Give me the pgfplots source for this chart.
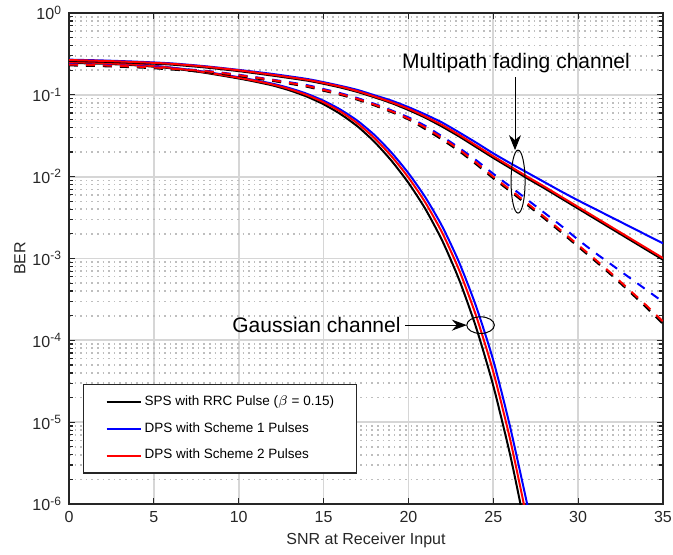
\documentclass[border=0pt]{standalone}
\usepackage{fontspec}
\setmainfont{Liberation Sans}
\usepackage{pgfplots}
\pgfplotsset{compat=1.18}
\usetikzlibrary{arrows.meta}
\definecolor{axgray}{RGB}{38,38,38}
\definecolor{gridmaj}{RGB}{214,214,214}
\definecolor{gridmin}{RGB}{190,190,190}
\begin{document}
\begin{tikzpicture}
\begin{axis}[
  scale only axis, width=297pt, height=245.5pt,
  xmin=0, xmax=35, ymin=1e-6, ymax=1, ymode=log,
  xtick={0,5,...,35},
  ytick={1e-6,1e-5,1e-4,1e-3,1e-2,1e-1,1},
  grid=both,
  major grid style={line width=0.9pt, gridmaj},
  minor grid style={line width=0.8pt, gridmin, dotted},
  major tick length=3pt, minor tick length=1.8pt,
  tick style={line width=0.6pt, axgray},
  tick align=inside,
  axis line style={line width=0.6pt, axgray},
  tick label style={font=\fontsize{8}{9.6}\selectfont, text=axgray},
  /pgf/number format/assume math mode=true,
  log number format basis/.code 2 args={#1\textsuperscript{\pgfmathprintnumber{#2}}},
  xlabel={SNR at Receiver Input}, ylabel={BER},
  label style={font=\fontsize{8}{9.6}\selectfont, text=axgray},
  xlabel style={at={(axis description cs:0.5,-0.0733)}, anchor=center},
  ylabel style={at={(axis description cs:-0.0825,0.5)}, anchor=center},
  legend cell align=left,
  legend image code/.code={\draw[#1, line width=1pt] (0pt,0pt) -- (17pt,0pt);},
  legend style={at={(0.0236,0.2444)}, anchor=north west, draw=axgray, line width=0.6pt,
    fill=white, font=\fontsize{6.75}{8}\selectfont, inner xsep=11pt, inner ysep=5.5pt,
    row sep=7pt, column sep=1.5pt, nodes={inner sep=0pt}},
]
% Gaussian channel
\addplot[black, line width=1pt, smooth, tension=0.4] coordinates {
(0,0.2455) (2,0.2399) (4,0.2291) (6,0.2113) (8,0.1862) (10,0.1585) (11,0.1445)
(12,0.1303) (13,0.1135) (14,9.550e-2) (15,7.674e-2) (16,5.821e-2) (17,4.121e-2) (18,2.661e-2)
(19,1.567e-2) (20,8.414e-3) (21,4.027e-3) (22,1.641e-3) (23,5.433e-4) (24,1.413e-4)
(25,2.786e-5) (26,3.936e-6) (26.7,7.943e-7)};
\addlegendentry{SPS with RRC Pulse ($\beta$ = 0.15)}
\addplot[blue, line width=1pt, smooth, tension=0.4] coordinates {
(0,0.2541) (2,0.2477) (4,0.2366) (6,0.2158) (8,0.1914) (10,0.1644) (11,0.1503)
(12,0.1368) (13,0.1208) (14,0.1033) (15,8.472e-2) (16,6.592e-2) (17,4.819e-2) (18,3.228e-2)
(19,1.972e-2) (20,1.104e-2) (21,5.585e-3) (22,2.449e-3) (23,8.851e-4) (24,2.559e-4)
(25,5.689e-5) (26,8.610e-6) (27.1,7.943e-7)};
\addlegendentry{DPS with Scheme 1 Pulses}
\addplot[red, line width=1pt, smooth, tension=0.4] coordinates {
(0,0.2512) (2,0.2443) (4,0.2328) (6,0.2138) (8,0.1892) (10,0.1618) (11,0.1479)
(12,0.1337) (13,0.1175) (14,9.977e-2) (15,8.110e-2) (16,6.237e-2) (17,4.487e-2) (18,2.958e-2)
(19,1.778e-2) (20,9.772e-3) (21,4.819e-3) (22,2.046e-3) (23,7.112e-4) (24,1.959e-4)
(25,4.121e-5) (26,6.053e-6) (26.9,7.943e-7)};
\addlegendentry{DPS with Scheme 2 Pulses}
% Multipath fading, solid
\addplot[black, line width=1pt, smooth, tension=0.4, forget plot] coordinates {
(0,0.2600) (2,0.2541) (4,0.2455) (6,0.2344) (8,0.2163) (10,0.1950) (12,0.1718) (14,0.1496)
(15,0.1365) (16,0.1230) (17,0.1084) (18,9.333e-2) (19,7.943e-2) (20,6.531e-2) (21,5.248e-2)
(22,4.074e-2) (23,3.090e-2) (24,2.291e-2) (25,1.698e-2) (26,1.274e-2) (27,9.550e-3)
(28,7.244e-3) (29,5.433e-3) (30,4.074e-3) (31,3.055e-3) (32,2.291e-3) (33,1.718e-3)
(34,1.288e-3) (35,9.661e-4)};
\addplot[blue, line width=1pt, smooth, tension=0.4, forget plot] coordinates {
(0,0.2692) (2,0.2630) (4,0.2541) (6,0.2427) (8,0.2239) (10,0.2018) (12,0.1799) (14,0.1567)
(15,0.1429) (16,0.1288) (17,0.1148) (18,9.886e-2) (19,8.511e-2) (20,7.079e-2) (21,5.754e-2)
(22,4.571e-2) (23,3.467e-2) (24,2.600e-2) (25,1.928e-2) (26,1.462e-2) (27,1.122e-2)
(28,8.610e-3) (29,6.607e-3) (30,5.129e-3) (31,4.027e-3) (32,3.162e-3) (33,2.483e-3)
(34,1.950e-3) (35,1.531e-3)};
\addplot[red, line width=1pt, smooth, tension=0.4, forget plot] coordinates {
(0,0.2661) (2,0.2600) (4,0.2512) (6,0.2399) (8,0.2213) (10,0.1995) (12,0.1758) (14,0.1531)
(15,0.1396) (16,0.1259) (17,0.1109) (18,9.550e-2) (19,8.128e-2) (20,6.761e-2) (21,5.433e-2)
(22,4.266e-2) (23,3.236e-2) (24,2.399e-2) (25,1.778e-2) (26,1.334e-2) (27,1.000e-2)
(28,7.586e-3) (29,5.689e-3) (30,4.266e-3) (31,3.199e-3) (32,2.399e-3) (33,1.799e-3)
(34,1.349e-3) (35,1.012e-3)};
% Multipath fading, dashed
\addplot[black, line width=1pt, smooth, tension=0.4, dash pattern=on 4.5pt off 4pt, forget plot] coordinates {
(0,0.2291) (2,0.2239) (4,0.2163) (5,0.2113) (6,0.2042) (8,0.1905) (10,0.1698) (12,0.1479)
(14,0.1259) (15,0.1122) (16,0.1000) (17,8.710e-2) (18,7.413e-2) (19,6.166e-2) (20,5.012e-2)
(21,3.802e-2) (22,2.818e-2) (23,2.042e-2) (24,1.413e-2) (25,9.550e-3) (26,6.607e-3)
(27,4.519e-3) (28,3.090e-3) (29,2.089e-3) (30,1.396e-3) (31,9.333e-4) (32,6.166e-4)
(33,3.981e-4) (34,2.541e-4) (35,1.585e-4)};
\addplot[blue, line width=1pt, smooth, tension=0.4, dash pattern=on 4.5pt off 4pt, forget plot] coordinates {
(0,0.2371) (2,0.2317) (4,0.2239) (5,0.2188) (6,0.2113) (8,0.1972) (10,0.1758) (12,0.1531)
(14,0.1318) (15,0.1175) (16,0.1047) (17,9.120e-2) (18,7.762e-2) (19,6.457e-2) (20,5.309e-2)
(21,4.169e-2) (22,3.090e-2) (23,2.239e-2) (24,1.585e-2) (25,1.084e-2) (26,7.586e-3)
(27,5.248e-3) (28,3.631e-3) (29,2.512e-3) (30,1.698e-3) (31,1.175e-3) (32,8.318e-4)
(33,5.888e-4) (34,4.169e-4) (35,2.951e-4)};
\addplot[red, line width=1pt, smooth, tension=0.4, dash pattern=on 4.5pt off 4pt, forget plot] coordinates {
(0,0.2344) (2,0.2291) (4,0.2213) (5,0.2163) (6,0.2089) (8,0.1950) (10,0.1738) (12,0.1514)
(14,0.1288) (15,0.1148) (16,0.1023) (17,8.913e-2) (18,7.586e-2) (19,6.310e-2) (20,5.129e-2)
(21,3.981e-2) (22,2.951e-2) (23,2.138e-2) (24,1.479e-2) (25,1.000e-2) (26,6.918e-3)
(27,4.732e-3) (28,3.236e-3) (29,2.188e-3) (30,1.462e-3) (31,9.772e-4) (32,6.457e-4)
(33,4.169e-4) (34,2.692e-4) (35,1.698e-4)};
% annotations
\node[font=\fontsize{10.5}{12}\selectfont, text=black] at (axis cs:26.34,0.245) {Multipath fading channel};
\draw[line width=0.5pt, -{Stealth[length=7.5pt,width=6pt,inset=2.5pt]}] (axis cs:26.28,0.165) -- (axis cs:26.28,0.0211);
\draw[line width=0.5pt] (axis cs:26.46,0.0087) ellipse [x radius=3.5pt, y radius=15.75pt];
\node[font=\fontsize{10.5}{12}\selectfont, text=black] at (axis cs:14.58,1.534e-4) {Gaussian channel};
\draw[line width=0.5pt, -{Stealth[length=7.5pt,width=5.5pt,inset=2.5pt]}] (axis cs:19.8,1.534e-4) -- (axis cs:23.44,1.534e-4);
\draw[line width=0.5pt] (axis cs:24.25,1.534e-4) ellipse [x radius=6.9pt, y radius=4.15pt];
\end{axis}
\pgfresetboundingbox
\path ([xshift=-34.5pt,yshift=-25pt]current axis.south west) rectangle ([xshift=5pt,yshift=6.5pt]current axis.north east);
\end{tikzpicture}
\end{document}
